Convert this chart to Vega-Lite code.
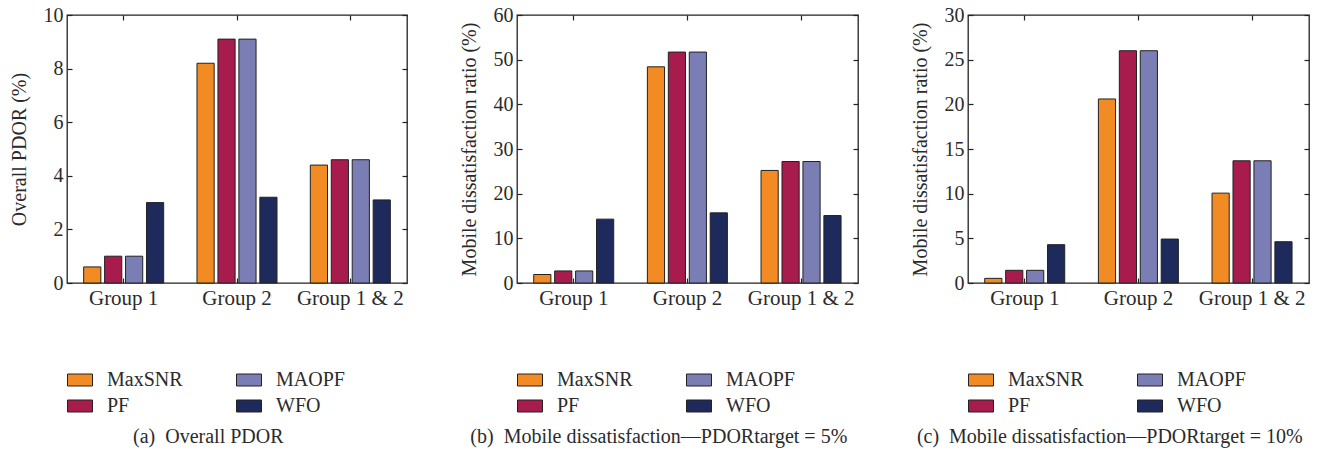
{
  "$schema": "https://vega.github.io/schema/vega-lite/v6.json",
  "background": "white",
  "padding": {"left": 8, "top": 4, "right": 5, "bottom": 5},
  "config": {
    "font": "Liberation Serif",
    "view": {"stroke": "#222", "strokeWidth": 1.3},
    "axis": {
      "labelFont": "Liberation Serif", "titleFont": "Liberation Serif",
      "labelFontSize": 20, "titleFontSize": 20, "titleFontWeight": "normal",
      "labelColor": "#2b2b2b", "titleColor": "#2b2b2b",
      "tickColor": "#222", "tickSize": -5, "tickWidth": 1.2,
      "domain": false, "grid": false
    },
    "legend": {"orient": "none", "legendX": 0, "legendY": 352, "columns": 2, "title": null, "symbolType": "M-1,-0.48H1V0.48H-1Z", "symbolSize": 625, "symbolStrokeColor": "#222", "symbolStrokeWidth": 1, "labelFont": "Liberation Serif", "labelFontSize": 20, "labelColor": "#2b2b2b", "labelOffset": 14, "columnPadding": 51, "rowPadding": 3, "padding": 0},
    "title": {"font": "Liberation Serif", "fontSize": 20, "fontWeight": "normal", "color": "#2b2b2b"}
  },
  "datasets": {
    "a": [
      {"group": "Group 1", "method": "MaxSNR", "value": 0.6},
      {"group": "Group 1", "method": "PF", "value": 1.0},
      {"group": "Group 1", "method": "MAOPF", "value": 1.0},
      {"group": "Group 1", "method": "WFO", "value": 3.0},
      {"group": "Group 2", "method": "MaxSNR", "value": 8.2},
      {"group": "Group 2", "method": "PF", "value": 9.1},
      {"group": "Group 2", "method": "MAOPF", "value": 9.1},
      {"group": "Group 2", "method": "WFO", "value": 3.2},
      {"group": "Group 1 & 2", "method": "MaxSNR", "value": 4.4},
      {"group": "Group 1 & 2", "method": "PF", "value": 4.6},
      {"group": "Group 1 & 2", "method": "MAOPF", "value": 4.6},
      {"group": "Group 1 & 2", "method": "WFO", "value": 3.1}
    ],
    "b": [
      {"group": "Group 1", "method": "MaxSNR", "value": 1.9},
      {"group": "Group 1", "method": "PF", "value": 2.7},
      {"group": "Group 1", "method": "MAOPF", "value": 2.7},
      {"group": "Group 1", "method": "WFO", "value": 14.3},
      {"group": "Group 2", "method": "MaxSNR", "value": 48.4},
      {"group": "Group 2", "method": "PF", "value": 51.7},
      {"group": "Group 2", "method": "MAOPF", "value": 51.7},
      {"group": "Group 2", "method": "WFO", "value": 15.7},
      {"group": "Group 1 & 2", "method": "MaxSNR", "value": 25.2},
      {"group": "Group 1 & 2", "method": "PF", "value": 27.2},
      {"group": "Group 1 & 2", "method": "MAOPF", "value": 27.2},
      {"group": "Group 1 & 2", "method": "WFO", "value": 15.1}
    ],
    "c": [
      {"group": "Group 1", "method": "MaxSNR", "value": 0.52},
      {"group": "Group 1", "method": "PF", "value": 1.42},
      {"group": "Group 1", "method": "MAOPF", "value": 1.42},
      {"group": "Group 1", "method": "WFO", "value": 4.29},
      {"group": "Group 2", "method": "MaxSNR", "value": 20.6},
      {"group": "Group 2", "method": "PF", "value": 26.0},
      {"group": "Group 2", "method": "MAOPF", "value": 26.0},
      {"group": "Group 2", "method": "WFO", "value": 4.92},
      {"group": "Group 1 & 2", "method": "MaxSNR", "value": 10.06},
      {"group": "Group 1 & 2", "method": "PF", "value": 13.68},
      {"group": "Group 1 & 2", "method": "MAOPF", "value": 13.68},
      {"group": "Group 1 & 2", "method": "WFO", "value": 4.62}
    ]
  },
  "spacing": 49,
  "resolve": {"scale": {"y": "independent", "color": "independent"}, "legend": {"color": "independent"}},
  "hconcat": [
    {
      "data": {"name": "a"},
      "width": 340, "height": 268,
      "title": {"text": "(a)\u00a0\u00a0Overall PDOR", "orient": "bottom", "frame": "bounds", "anchor": "middle", "offset": 11},
      "resolve": {"axis": {"x": "independent", "y": "independent"}},
      "layer": [
        {
          "mark": {"type": "bar", "stroke": "#222", "strokeWidth": 1},
          "encoding": {
            "x": {"field": "group", "type": "nominal", "sort": ["Group 1", "Group 2", "Group 1 & 2"], "scale": {"paddingInner": 0.294, "paddingOuter": 0.147}, "axis": {"orient": "bottom", "title": null, "labelAngle": 0, "labelPadding": 9, "labelFontSize": 21}},
            "xOffset": {"field": "method", "type": "nominal", "sort": ["MaxSNR", "PF", "MAOPF", "WFO"], "scale": {"paddingInner": 0.18, "paddingOuter": 0}},
            "y": {"field": "value", "type": "quantitative", "scale": {"domain": [0, 10], "nice": false}, "axis": {"orient": "left", "title": "Overall PDOR (%)", "values": [0, 2, 4, 6, 8, 10], "labelPadding": 9, "titlePadding": 14}},
            "color": {"field": "method", "type": "nominal", "sort": ["MaxSNR", "PF", "MAOPF", "WFO"], "scale": {"domain": ["MaxSNR", "PF", "MAOPF", "WFO"], "range": ["#F28B24", "#A81C4D", "#7B7DB5", "#1E2A5B"]}}
          }
        },
        {
          "mark": {"type": "bar", "opacity": 0},
          "encoding": {
            "x": {"field": "group", "type": "nominal", "sort": ["Group 1", "Group 2", "Group 1 & 2"], "axis": {"orient": "top", "title": null, "labels": false}},
            "xOffset": {"field": "method", "type": "nominal", "sort": ["MaxSNR", "PF", "MAOPF", "WFO"]},
            "y": {"field": "value", "type": "quantitative", "axis": {"orient": "right", "title": null, "labels": false, "values": [0, 2, 4, 6, 8, 10]}}
          }
        }
      ]
    },
    {
      "data": {"name": "b"},
      "width": 341, "height": 268,
      "title": {"text": "(b)\u00a0\u00a0Mobile dissatisfaction—PDORtarget = 5%", "orient": "bottom", "frame": "bounds", "anchor": "middle", "offset": 11},
      "resolve": {"axis": {"x": "independent", "y": "independent"}},
      "layer": [
        {
          "mark": {"type": "bar", "stroke": "#222", "strokeWidth": 1},
          "encoding": {
            "x": {"field": "group", "type": "nominal", "sort": ["Group 1", "Group 2", "Group 1 & 2"], "scale": {"paddingInner": 0.294, "paddingOuter": 0.147}, "axis": {"orient": "bottom", "title": null, "labelAngle": 0, "labelPadding": 9, "labelFontSize": 21}},
            "xOffset": {"field": "method", "type": "nominal", "sort": ["MaxSNR", "PF", "MAOPF", "WFO"], "scale": {"paddingInner": 0.18, "paddingOuter": 0}},
            "y": {"field": "value", "type": "quantitative", "scale": {"domain": [0, 60], "nice": false}, "axis": {"orient": "left", "title": "Mobile dissatisfaction ratio (%)", "values": [0, 10, 20, 30, 40, 50, 60], "labelPadding": 9, "titlePadding": 14}},
            "color": {"field": "method", "type": "nominal", "sort": ["MaxSNR", "PF", "MAOPF", "WFO"], "scale": {"domain": ["MaxSNR", "PF", "MAOPF", "WFO"], "range": ["#F28B24", "#A81C4D", "#7B7DB5", "#1E2A5B"]}}
          }
        },
        {
          "mark": {"type": "bar", "opacity": 0},
          "encoding": {
            "x": {"field": "group", "type": "nominal", "sort": ["Group 1", "Group 2", "Group 1 & 2"], "axis": {"orient": "top", "title": null, "labels": false}},
            "xOffset": {"field": "method", "type": "nominal", "sort": ["MaxSNR", "PF", "MAOPF", "WFO"]},
            "y": {"field": "value", "type": "quantitative", "axis": {"orient": "right", "title": null, "labels": false, "values": [0, 10, 20, 30, 40, 50, 60]}}
          }
        }
      ]
    },
    {
      "data": {"name": "c"},
      "width": 341, "height": 268,
      "title": {"text": "(c)\u00a0\u00a0Mobile dissatisfaction—PDORtarget = 10%", "orient": "bottom", "frame": "bounds", "anchor": "middle", "offset": 11},
      "resolve": {"axis": {"x": "independent", "y": "independent"}},
      "layer": [
        {
          "mark": {"type": "bar", "stroke": "#222", "strokeWidth": 1},
          "encoding": {
            "x": {"field": "group", "type": "nominal", "sort": ["Group 1", "Group 2", "Group 1 & 2"], "scale": {"paddingInner": 0.294, "paddingOuter": 0.147}, "axis": {"orient": "bottom", "title": null, "labelAngle": 0, "labelPadding": 9, "labelFontSize": 21}},
            "xOffset": {"field": "method", "type": "nominal", "sort": ["MaxSNR", "PF", "MAOPF", "WFO"], "scale": {"paddingInner": 0.18, "paddingOuter": 0}},
            "y": {"field": "value", "type": "quantitative", "scale": {"domain": [0, 30], "nice": false}, "axis": {"orient": "left", "title": "Mobile dissatisfaction ratio (%)", "values": [0, 5, 10, 15, 20, 25, 30], "labelPadding": 9, "titlePadding": 14}},
            "color": {"field": "method", "type": "nominal", "sort": ["MaxSNR", "PF", "MAOPF", "WFO"], "scale": {"domain": ["MaxSNR", "PF", "MAOPF", "WFO"], "range": ["#F28B24", "#A81C4D", "#7B7DB5", "#1E2A5B"]}}
          }
        },
        {
          "mark": {"type": "bar", "opacity": 0},
          "encoding": {
            "x": {"field": "group", "type": "nominal", "sort": ["Group 1", "Group 2", "Group 1 & 2"], "axis": {"orient": "top", "title": null, "labels": false}},
            "xOffset": {"field": "method", "type": "nominal", "sort": ["MaxSNR", "PF", "MAOPF", "WFO"]},
            "y": {"field": "value", "type": "quantitative", "axis": {"orient": "right", "title": null, "labels": false, "values": [0, 5, 10, 15, 20, 25, 30]}}
          }
        }
      ]
    }
  ]
}
